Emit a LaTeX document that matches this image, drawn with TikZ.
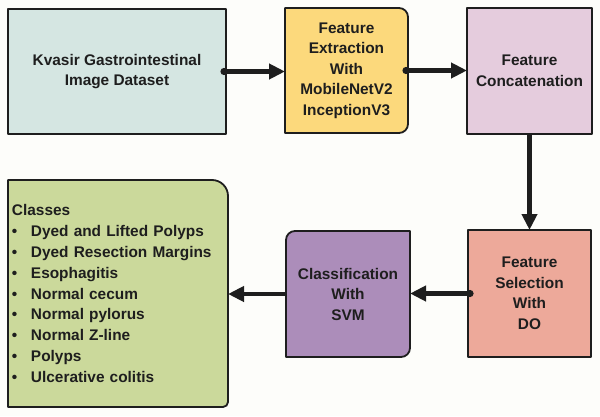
\documentclass[tikz,border=0pt]{standalone}
\usepackage{fontspec}
\setmainfont{Liberation Sans}
\usetikzlibrary{arrows.meta,backgrounds}
\definecolor{bgc}{HTML}{FDFDFA}
\definecolor{cA}{HTML}{D5E6E2}
\definecolor{cB}{HTML}{FCD97C}
\definecolor{cC}{HTML}{E5CCDD}
\definecolor{cD}{HTML}{EDA99A}
\definecolor{cE}{HTML}{AC8DBA}
\definecolor{cF}{HTML}{CBD99B}
\definecolor{ink}{HTML}{1E1E1E}
\tikzset{
  boxline/.style={draw=ink, line width=1.8pt, line join=round},
  stage/.style={outer sep=0pt, inner sep=0pt, align=center, text=ink,
    font=\fontsize{15.4}{20.5}\selectfont\bfseries},
  arr/.style={draw=ink, line width=4.5pt, -{Triangle[length=16pt,width=15pt]}},
  dot/.style={fill=ink}
}
\begin{document}
\begin{tikzpicture}[x=1pt,y=1pt]
\useasboundingbox (0,0) rectangle (600,416);

\node[stage, boxline, fill=cA, minimum width=218pt, minimum height=125pt] (b1) at (117,344.5) {Kvasir Gastrointestinal\\Image Dataset};
\node[stage, minimum width=123pt, minimum height=125pt] (b2) at (346.5,345.5) {Feature\\Extraction\\With\\MobileNetV2\\InceptionV3};
\node[stage, boxline, fill=cC, minimum width=125pt, minimum height=126pt] (b3) at (529.5,345) {Feature\\Concatenation};
\node[stage, boxline, fill=cD, minimum width=123pt, minimum height=127pt] (b4) at (529.5,122.5) {Feature\\Selection\\With\\DO};
\node[stage, minimum width=124pt, minimum height=126pt] (b5) at (348,122) {Classification\\With\\SVM};
\node[stage, align=left, text width=212pt, inner xsep=4pt, minimum width=220pt, minimum height=227pt,
  font=\fontsize{15.4}{20.9}\selectfont\bfseries] (b6) at (118,122.5)
  {Classes\\
   \makebox[19pt][l]{\textbullet}Dyed and Lifted Polyps\\
   \makebox[19pt][l]{\textbullet}Dyed Resection Margins\\
   \makebox[19pt][l]{\textbullet}Esophagitis\\
   \makebox[19pt][l]{\textbullet}Normal cecum\\
   \makebox[19pt][l]{\textbullet}Normal pylorus\\
   \makebox[19pt][l]{\textbullet}Normal Z-line\\
   \makebox[19pt][l]{\textbullet}Polyps\\
   \makebox[19pt][l]{\textbullet}Ulcerative colitis};

\begin{scope}[on background layer]
\fill[bgc] (0,0) rectangle (600,416);
\path[boxline, fill=cB] (b2.south west) -- (b2.north west) -- ([xshift=-9pt]b2.north east)
  arc[start angle=90,end angle=0,radius=9pt] -- ([yshift=9pt]b2.south east)
  arc[start angle=0,end angle=-90,radius=9pt] -- cycle;
\path[boxline, fill=cE] (b5.south west) -- ([yshift=-9pt]b5.north west)
  arc[start angle=180,end angle=90,radius=9pt] -- (b5.north east) -- ([yshift=9pt]b5.south east)
  arc[start angle=0,end angle=-90,radius=9pt] -- cycle;
\path[boxline, fill=cF] (b6.south west) -- (b6.north west) -- ([xshift=-16pt]b6.north east)
  arc[start angle=90,end angle=0,radius=16pt] -- ([yshift=5pt]b6.south east)
  arc[start angle=0,end angle=-90,radius=5pt] -- cycle;
\end{scope}

\draw[arr] ([xshift=-2pt]b1.east) -- (b1.east -| b2.west);
\fill[dot] ([xshift=-2pt]b1.east) circle[radius=3.6pt];
\draw[arr] ([xshift=-2pt]b2.east) -- (b2.east -| b3.west);
\fill[dot] ([xshift=-2pt]b2.east) circle[radius=3.6pt];
\draw[arr] (b3.south) -- (b4.north);
\draw[arr] ([xshift=2pt]b4.west) -- (b4.west -| b5.east);
\fill[dot] ([xshift=2pt]b4.west) circle[radius=3.6pt];
\draw[arr] (b5.west) -- (b5.west -| b6.east);
\end{tikzpicture}
\end{document}
